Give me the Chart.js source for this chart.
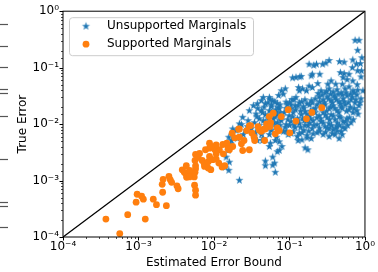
<!DOCTYPE html>
<html>
<head>
<meta charset="utf-8">
<script src="https://cdn.jsdelivr.net/npm/chart.js@4.4.1/dist/chart.umd.min.js"></script>
<style>
  html, body { margin: 0; padding: 0; background: #fff; }
  #chart { display: block; }
</style>
</head>
<body>
<canvas id="chart" width="378" height="272"></canvas>
<script>
/* Estimated error bound vs. true error, log-log scatter */
var decadeTicks = [1e-4, 1e-3, 1e-2, 1e-1, 1];
var decadeLabels = ["10\u207B\u2074", "10\u207B\u00B3", "10\u207B\u00B2", "10\u207B\u00B9", "10\u2070"];
var seriesNames = ["Unsupported Marginals", "Supported Marginals"];

// [estimated bound, true error]
var unsupported = [
  [0.74, 0.305], [0.835, 0.305], [0.80, 0.203], [0.69, 0.137], [0.77, 0.116], [0.87, 0.118], [0.91, 0.150],
  [0.90, 0.088], [0.80, 0.088], [0.68, 0.100], [0.46, 0.128], [0.53, 0.125], [0.303, 0.121], [0.335, 0.134],
  [0.275, 0.115], [0.228, 0.115], [0.182, 0.115], [0.21, 0.110], [0.201, 0.0765], [0.252, 0.0765],
  [0.194, 0.0716], [0.143, 0.070], [0.122, 0.0673], [0.110, 0.066], [0.137, 0.0687], [0.472, 0.0818],
  [0.53, 0.0786], [0.615, 0.0765], [0.512, 0.0668], [0.58, 0.0615], [0.356, 0.0584], [0.322, 0.051],
  [0.41, 0.051], [0.502, 0.051], [0.69, 0.0584], [0.237, 0.0523], [0.182, 0.0471], [0.149, 0.0422],
  [0.135, 0.039], [0.078, 0.039], [0.088, 0.0422], [0.083, 0.034], [0.0717, 0.0322], [0.060, 0.026],
  [0.069, 0.0233], [0.090, 0.0246], [0.108, 0.0274], [0.122, 0.0297], [0.168, 0.039], [0.201, 0.0445],
  [0.045, 0.0297], [0.0552, 0.0274], [0.132, 0.0445], [0.885, 0.0687], [0.79, 0.050], [0.94, 0.039],
  [0.262, 0.039], [0.296, 0.0359], [0.335, 0.0422], [0.378, 0.0374], [0.427, 0.0406], [0.483, 0.0359],
  [0.544, 0.0422], [0.615, 0.0458], [0.694, 0.039], [0.783, 0.0331], [0.885, 0.0281],
  [0.247, 0.0305], [0.279, 0.027], [0.315, 0.0305], [0.356, 0.026], [0.402, 0.0293], [0.454, 0.0249],
  [0.512, 0.0281], [0.578, 0.0318], [0.653, 0.027], [0.737, 0.0239], [0.833, 0.0212],
  [0.232, 0.0221], [0.262, 0.0195], [0.296, 0.0221], [0.335, 0.0188], [0.378, 0.0212], [0.427, 0.0173],
  [0.483, 0.0203], [0.544, 0.0221], [0.615, 0.018], [0.694, 0.016], [0.783, 0.0173],
  [0.219, 0.016], [0.247, 0.0141], [0.279, 0.016], [0.315, 0.013], [0.356, 0.0147], [0.402, 0.012],
  [0.454, 0.0136], [0.512, 0.0111], [0.578, 0.0125], [0.653, 0.0106],
  [0.206, 0.0115], [0.232, 0.0098], [0.262, 0.0111], [0.296, 0.00904], [0.335, 0.0102], [0.378, 0.00799],
  [0.427, 0.00904], [0.483, 0.00737], [0.544, 0.00832],
  [0.232, 0.00707], [0.279, 0.00654], [0.335, 0.00603], [0.402, 0.00654], [0.454, 0.00555],
  [0.0935, 0.0221], [0.105, 0.0188], [0.119, 0.0212], [0.135, 0.0239], [0.152, 0.0203], [0.171, 0.023],
  [0.194, 0.026], [0.219, 0.0281], [0.085, 0.016], [0.099, 0.0141], [0.112, 0.016], [0.127, 0.0125],
  [0.143, 0.0147], [0.161, 0.0166], [0.182, 0.0136], [0.206, 0.018], [0.0778, 0.0115], [0.0906, 0.0098],
  [0.105, 0.0111], [0.119, 0.00867], [0.135, 0.0102], [0.157, 0.0115], [0.176, 0.0094], [0.20, 0.00832],
  [0.0828, 0.00737], [0.096, 0.00654], [0.112, 0.00737], [0.127, 0.00603], [0.147, 0.00707],
  [0.171, 0.00628], [0.194, 0.00555], [0.0733, 0.0188], [0.0649, 0.016], [0.0575, 0.0203],
  [0.0294, 0.0173], [0.0332, 0.0212], [0.0375, 0.023], [0.0424, 0.026], [0.0479, 0.023], [0.0541, 0.0297],
  [0.0705, 0.0197], [0.036, 0.0151], [0.0283, 0.0115], [0.0424, 0.0173], [0.0479, 0.0147], [0.0541, 0.0173],
  [0.0611, 0.0125], [0.0689, 0.0147], [0.0399, 0.0125], [0.0479, 0.0106], [0.0343, 0.0106],
  [0.0558, 0.0094], [0.0689, 0.0106],
  [0.024, 0.0132], [0.0217, 0.0101], [0.0177, 0.00823], [0.0266, 0.00768], [0.0231, 0.0098],
  [0.0196, 0.00768], [0.0157, 0.00585], [0.0167, 0.00448], [0.0154, 0.00341], [0.0145, 0.0026],
  [0.016, 0.00212], [0.0142, 0.00173], [0.0157, 0.00152], [0.017, 0.00512], [0.0204, 0.00555],
  [0.0245, 0.00654], [0.0277, 0.00904], [0.0313, 0.00832], [0.0353, 0.00707], [0.0424, 0.00654],
  [0.0375, 0.00512], [0.045, 0.00555], [0.0541, 0.00654], [0.0649, 0.00512],
  [0.0217, 0.00101], [0.0479, 0.00221], [0.0479, 0.00183], [0.060, 0.0026], [0.060, 0.00188],
  [0.0649, 0.0014], [0.0689, 0.00324], [0.0733, 0.00486], [0.0541, 0.00401], [0.161, 0.0038],
  [0.175, 0.00351], [0.13, 0.00512], [0.171, 0.00571], [0.146, 0.00526], [0.0795, 0.00401],
  [0.0558, 0.00459], [0.0635, 0.00204], [0.044, 0.00512], [0.0575, 0.00768], [0.0675, 0.00585],
  [0.0733, 0.00341], [0.206, 0.00672], [0.335, 0.00832],
  // densest part of the cloud
  [0.24, 0.035], [0.27, 0.033], [0.31, 0.038], [0.35, 0.034], [0.39, 0.032], [0.44, 0.034], [0.50, 0.033],
  [0.56, 0.036], [0.64, 0.034], [0.72, 0.036], [0.80, 0.04],
  [0.25, 0.025], [0.29, 0.024], [0.33, 0.028], [0.37, 0.024], [0.42, 0.027], [0.47, 0.023], [0.53, 0.025],
  [0.60, 0.024], [0.68, 0.03], [0.76, 0.027], [0.86, 0.024],
  [0.22, 0.019], [0.27, 0.021], [0.31, 0.017], [0.35, 0.02], [0.40, 0.019], [0.45, 0.016], [0.50, 0.019],
  [0.57, 0.017], [0.64, 0.02], [0.72, 0.019], [0.81, 0.015],
  [0.23, 0.013], [0.26, 0.0125], [0.30, 0.0145], [0.34, 0.012], [0.38, 0.014], [0.43, 0.0105], [0.48, 0.013],
  [0.55, 0.011], [0.62, 0.013], [0.70, 0.012],
  [0.21, 0.0095], [0.25, 0.0085], [0.28, 0.0105], [0.32, 0.0085], [0.36, 0.0095], [0.41, 0.0085],
  [0.46, 0.0095], [0.51, 0.0088], [0.59, 0.0095],
  [0.25, 0.0075], [0.30, 0.0072], [0.37, 0.0068], [0.43, 0.0075], [0.50, 0.0065],
  [0.10, 0.024], [0.115, 0.027], [0.13, 0.021], [0.145, 0.025], [0.16, 0.027], [0.185, 0.022], [0.20, 0.024],
  [0.09, 0.019], [0.105, 0.022], [0.12, 0.018], [0.14, 0.017], [0.155, 0.019], [0.17, 0.015], [0.19, 0.017],
  [0.08, 0.0135], [0.095, 0.012], [0.11, 0.0135], [0.13, 0.0115], [0.15, 0.0125], [0.17, 0.0115], [0.19, 0.0125],
  [0.088, 0.0088], [0.10, 0.0095], [0.115, 0.0095], [0.14, 0.0088], [0.16, 0.0095], [0.185, 0.0105],
  [0.09, 0.0075], [0.105, 0.0068], [0.135, 0.0068], [0.155, 0.0078], [0.18, 0.0075],
  [0.046, 0.02], [0.052, 0.024], [0.058, 0.022], [0.064, 0.025], [0.075, 0.022], [0.038, 0.019],
  [0.044, 0.016], [0.058, 0.016], [0.066, 0.018], [0.075, 0.016], [0.052, 0.0125], [0.064, 0.0135],
  [0.037, 0.0135], [0.045, 0.0115], [0.075, 0.0125], [0.062, 0.0105], [0.05, 0.0085], [0.065, 0.009],
  [0.075, 0.0095], [0.04, 0.0095]
];

var supported = [
  [3.7e-4, 2.08e-4], [5.65e-4, 1.15e-4], [7.2e-4, 2.49e-4], [9.3e-4, 4.14e-4], [9.6e-4, 5.72e-4],
  [1.1e-3, 5.28e-4], [1.16e-3, 4.67e-4], [1.23e-3, 2.08e-4], [1.57e-3, 4.67e-4], [1.73e-3, 3.74e-4],
  [2.34e-3, 3.59e-4], [2.06e-3, 8.59e-4], [2.09e-3, 6.21e-4], [2.12e-3, 1.05e-3], [2.53e-3, 1.19e-3],
  [2.64e-3, 1.03e-3], [2.75e-3, 9.31e-4], [3.23e-3, 8.08e-4], [3.35e-3, 7.16e-4], [3.8e-3, 1.55e-3],
  [4.04e-3, 1.4e-3], [4.27e-3, 1.29e-3], [4.34e-3, 1.14e-3], [4.6e-3, 1.34e-3], [5.05e-3, 1.24e-3],
  [4.3e-3, 1.83e-3], [5.61e-3, 2.27e-3], [5.7e-3, 1.82e-3], [5.7e-3, 1.61e-3], [5.61e-3, 1.4e-3],
  [5.53e-3, 8.25e-4], [5.7e-3, 6.73e-4], [5.7e-3, 5.5e-4], [5.7e-3, 2.9e-3], [6.44e-3, 3.02e-3],
  [6.15e-3, 2.57e-3], [6.98e-3, 2.27e-3], [7.5e-3, 1.78e-3], [7.72e-3, 3.51e-3], [8.73e-3, 3.75e-3],
  [1.03e-2, 3.51e-3], [8.73e-3, 2.67e-3], [9.64e-3, 2.34e-3], [1.07e-2, 2.4e-3], [1.16e-2, 2.04e-3],
  [1.28e-2, 1.73e-3], [1.39e-2, 1.83e-3], [9.08e-3, 1.56e-3], [8.38e-3, 1.66e-3], [1.18e-2, 3.51e-3],
  [1.33e-2, 2.98e-3], [1.54e-2, 4.01e-3], [1.6e-2, 3.51e-3], [1.77e-2, 4.01e-3], [8.73e-3, 4.59e-3],
  [1.07e-2, 4.3e-3], [9.08e-3, 4.01e-3], [1.31e-2, 4.35e-3], [1.48e-2, 4.59e-3], [1.74e-2, 6.88e-3],
  [1.88e-2, 5.71e-3], [2.12e-2, 8.1e-3], [2.17e-2, 5.85e-3], [2.31e-2, 4.48e-3], [2.5e-2, 5.12e-3],
  [2.4e-2, 3.41e-3], [2.94e-2, 3.51e-3], [2.94e-2, 9.29e-3], [3.19e-2, 6.88e-3], [3.4e-2, 5.85e-3],
  [3.46e-2, 5.12e-3], [3.99e-2, 7.9e-3], [4.6e-2, 8.1e-3], [4.98e-2, 1.01e-2], [5.62e-2, 1.06e-2],
  [5.52e-2, 9.04e-3], [6.1e-2, 1.56e-2], [5.4e-2, 1.36e-2], [4.69e-2, 5.12e-3], [4.24e-2, 7.47e-3],
  [2.71e-2, 7.68e-3], [3.06e-2, 9.41e-3], [2.17e-2, 8.23e-3], [9.62e-2, 1.8e-2], [7.78e-2, 1.36e-2],
  [1.22e-1, 1.13e-2], [1.68e-1, 1.24e-2], [1.98e-1, 1.61e-2], [2.68e-1, 1.95e-2], [4.79e-2, 8.23e-3],
  [3.83e-2, 9.04e-3], [6.89e-2, 8.57e-3], [7.33e-2, 7.68e-3], [6.49e-2, 6.72e-3], [1.01e-1, 7.0e-3],
  [4.75e-3, 1.52e-3], [5.48e-3, 1.16e-3], [4.75e-3, 1.16e-3], [7.43e-3, 1.99e-3], [8.38e-3, 2.16e-3],
  [1.07e-2, 2.98e-3], [1.54e-2, 3.66e-3]
];

var diagonal = [1e-4, 1];

var BLUE = "#1f77b4";
var ORANGE = "#ff7f0e";
var FONT = "'DejaVu Sans', sans-serif";

function toPoints(pairs) {
  return pairs.map(function (p) {
    return { x: p[0], y: p[1] };
  });
}

function makeStar(color, r) {
  var size = Math.ceil(2 * r + 2);
  var c = document.createElement("canvas");
  c.width = size;
  c.height = size;
  var g = c.getContext("2d");
  g.fillStyle = color;
  g.beginPath();
  for (var i = 0; i < 10; i++) {
    var rad = i % 2 === 0 ? r : r * 0.4;
    var a = -Math.PI / 2 + (i * Math.PI) / 5;
    var px = size / 2 + rad * Math.cos(a);
    var py = size / 2 + rad * Math.sin(a);
    if (i === 0) g.moveTo(px, py);
    else g.lineTo(px, py);
  }
  g.closePath();
  g.fill();
  return c;
}

var starImg = makeStar(BLUE, 4.2);

function isDecade(v) {
  var l = Math.log10(v);
  return Math.abs(l - Math.round(l)) < 1e-9;
}

function decadeLabel(v) {
  for (var i = 0; i < decadeTicks.length; i++) {
    if (Math.abs(Math.log10(v) - Math.log10(decadeTicks[i])) < 1e-9) return decadeLabels[i];
  }
  return "";
}

var framePlugin = {
  id: "frame",
  afterDatasetsDraw: function (chart) {
    var ctx = chart.ctx;
    var ca = chart.chartArea;
    ctx.save();
    ctx.strokeStyle = "#000";
    ctx.lineWidth = 1;
    ctx.strokeRect(ca.left, ca.top, ca.right - ca.left, ca.bottom - ca.top);

    var xs = chart.scales.x;
    xs.ticks.forEach(function (t) {
      var px = Math.round(xs.getPixelForValue(t.value)) + 0.5;
      var major = isDecade(t.value);
      ctx.lineWidth = major ? 1 : 0.7;
      ctx.beginPath();
      ctx.moveTo(px, ca.bottom);
      ctx.lineTo(px, ca.bottom + (major ? 3.5 : 2));
      ctx.stroke();
    });
    var ys = chart.scales.y;
    ys.ticks.forEach(function (t) {
      var py = Math.round(ys.getPixelForValue(t.value)) + 0.5;
      var major = isDecade(t.value);
      ctx.lineWidth = major ? 1 : 0.7;
      ctx.beginPath();
      ctx.moveTo(ca.left, py);
      ctx.lineTo(ca.left - (major ? 3.5 : 2), py);
      ctx.stroke();
    });
    ctx.restore();
  },
  afterDraw: function (chart) {
    var ctx = chart.ctx;
    var ca = chart.chartArea;
    ctx.save();

    // legend box, upper left
    var bx = ca.left + 6.5, by = ca.top + 6.5;
    ctx.beginPath();
    ctx.roundRect(bx, by, 184, 38, 3);
    ctx.fillStyle = "rgba(255,255,255,0.8)";
    ctx.fill();
    ctx.strokeStyle = "#cccccc";
    ctx.lineWidth = 1;
    ctx.stroke();

    var rowY = [ca.top + 15, ca.top + 33];
    var mx = ca.left + 23;
    ctx.drawImage(starImg, mx - starImg.width / 2, rowY[0] - starImg.height / 2);
    ctx.fillStyle = ORANGE;
    ctx.beginPath();
    ctx.arc(mx, rowY[1], 3.4, 0, Math.PI * 2);
    ctx.fill();

    ctx.fillStyle = "#000";
    ctx.font = "12px " + FONT;
    ctx.textBaseline = "middle";
    ctx.textAlign = "left";
    ctx.fillText(seriesNames[0], ca.left + 44, rowY[0]);
    ctx.fillText(seriesNames[1], ca.left + 44, rowY[1]);

    // stray tick marks of the neighbouring panel, cut at the left edge
    ctx.strokeStyle = "#555";
    ctx.lineWidth = 1.2;
    [24, 46, 67, 89, 93, 116, 159, 202, 206, 227].forEach(function (y) {
      ctx.beginPath();
      ctx.moveTo(0, y + 0.5);
      ctx.lineTo(8, y + 0.5);
      ctx.stroke();
    });
    ctx.restore();
  }
};

function logAxis(title, extra) {
  var ax = {
    type: "logarithmic",
    min: decadeTicks[0],
    max: decadeTicks[decadeTicks.length - 1],
    border: { display: false },
    grid: { display: false, drawTicks: false },
    ticks: {
      autoSkip: false,
      maxRotation: 0,
      color: "#000",
      font: { family: FONT, size: 12 },
      callback: function (v) {
        return decadeLabel(v);
      }
    },
    title: {
      display: true,
      text: title,
      color: "#000",
      font: { family: FONT, size: 12 }
    }
  };
  for (var k in extra) ax[k] = extra[k];
  return ax;
}

var xAxis = logAxis("Estimated Error Bound", {
  position: "bottom",
  afterFit: function (s) {
    s.height = 35;
  }
});
xAxis.ticks.padding = 3;
xAxis.title.padding = { top: 0, bottom: 2 };

var yAxis = logAxis("True Error", {
  position: "left",
  afterFit: function (s) {
    s.width = 63;
  }
});
yAxis.ticks.padding = 4;
yAxis.title.padding = { top: 16, bottom: 0 };

new Chart(document.getElementById("chart"), {
  type: "scatter",
  data: {
    datasets: [
      {
        label: seriesNames[0],
        data: toPoints(unsupported),
        pointStyle: starImg,
        pointRadius: 3,
        order: 1
      },
      {
        label: seriesNames[1],
        data: toPoints(supported),
        pointStyle: "circle",
        pointRadius: 3.4,
        pointBorderWidth: 0,
        backgroundColor: ORANGE,
        borderColor: ORANGE,
        order: 0
      },
      {
        label: "y = x",
        data: [{ x: diagonal[0], y: diagonal[0] }, { x: diagonal[1], y: diagonal[1] }],
        showLine: true,
        borderColor: "#000",
        borderWidth: 1.3,
        pointRadius: 0,
        order: 2
      }
    ]
  },
  options: {
    responsive: false,
    animation: false,
    layout: { padding: { left: 0, right: 12, top: 10, bottom: 0 } },
    plugins: {
      legend: { display: false },
      tooltip: { enabled: false }
    },
    scales: { x: xAxis, y: yAxis }
  },
  plugins: [framePlugin]
});
</script>
</body>
</html>
